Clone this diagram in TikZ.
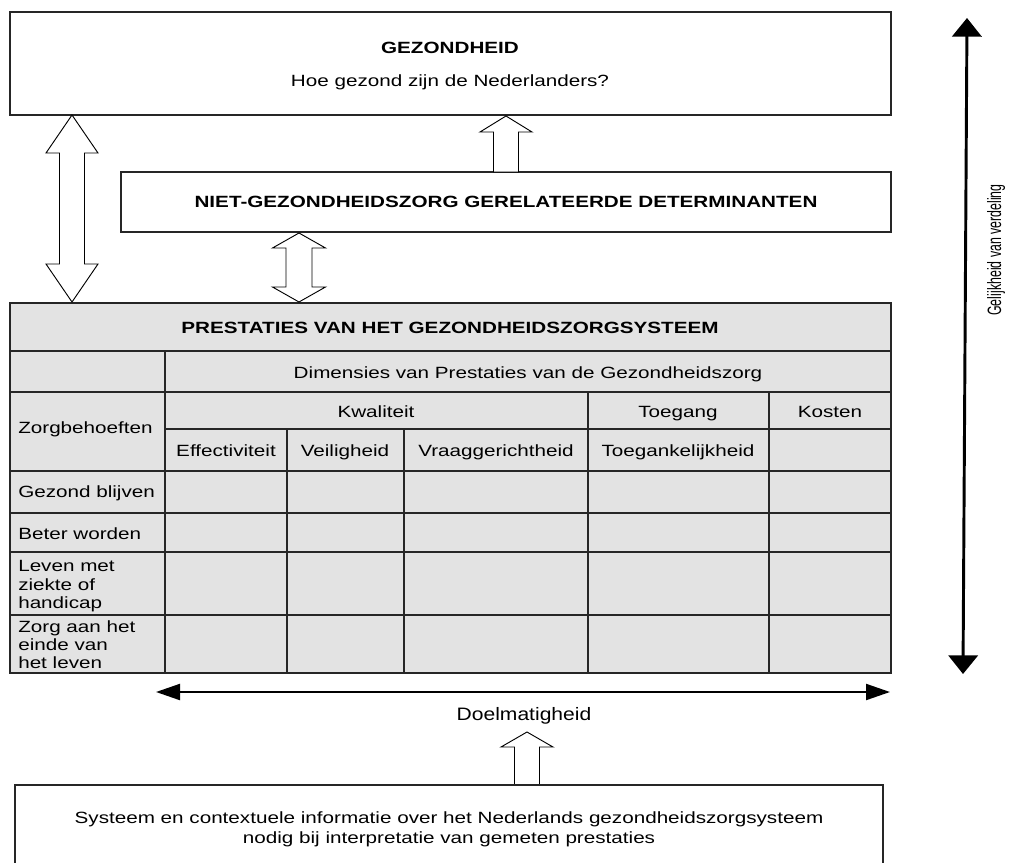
\documentclass[tikz,border=0pt]{standalone}
\usepackage{fontspec}
\setmainfont{Liberation Sans}[FakeStretch=1.27]
\newfontfamily\doelfont{Liberation Sans}[FakeStretch=1.17]
\newfontfamily\rotfont{Liberation Sans}[FakeStretch=0.64]
\usetikzlibrary{arrows.meta,fit}
\definecolor{tablefill}{gray}{0.89}
\definecolor{edge}{gray}{0.15}
\newcommand\updownblock[6]{% x, ytop, ybot, head half, shaft half, head length
  \draw[blockarrow] (#1,#2) -- ({#1+#4},{#2+#6}) -- ({#1+#5},{#2+#6}) -- ({#1+#5},{#3-#6})
    -- ({#1+#4},{#3-#6}) -- (#1,#3) -- ({#1-#4},{#3-#6}) -- ({#1-#5},{#3-#6})
    -- ({#1-#5},{#2+#6}) -- ({#1-#4},{#2+#6}) -- cycle;}
\newcommand\uponlyblock[6]{% x, ytop, ybot, head half, shaft half, head length
  \draw[blockarrow] (#1,#2) -- ({#1+#4},{#2+#6}) -- ({#1+#5},{#2+#6}) -- ({#1+#5},#3)
    -- ({#1-#5},#3) -- ({#1-#5},{#2+#6}) -- ({#1-#4},{#2+#6}) -- cycle;}
\begin{document}
\begin{tikzpicture}[x=0.75pt,y=-0.75pt,
  font=\fontsize{12.2}{14}\selectfont,
  boxframe/.style={draw=edge,line width=0.8pt,fill=white,inner sep=0pt},
  txt/.style={inner sep=0pt,anchor=base},
  lefttxt/.style={inner sep=0pt,anchor=base west},
  blockarrow/.style={draw=black,line width=0.7pt,fill=white,line join=miter},
  gridline/.style={draw=edge,line width=0.8pt},
  solidtip/.style={line width=1.6pt,{Triangle[length=18pt,width=12pt]}-{Triangle[length=18pt,width=12pt]}}]
\useasboundingbox[fill=white] (0,0) rectangle (1013,863);

% ---------- top box
\coordinate (gA) at (10,12); \coordinate (gB) at (891,115);
\node[boxframe,fit=(gA)(gB)] (gez) {};
\node[txt,font=\fontsize{12.2}{14}\selectfont\bfseries] (gezt) at (450,54) {GEZONDHEID};
\node[txt] (gezq) at (450,87) {Hoe gezond zijn de Nederlanders?};

% ---------- NIET box
\coordinate (nA) at (121,172); \coordinate (nB) at (891,232);
\node[boxframe,fit=(nA)(nB)] (niet) {};
\node[txt,font=\fontsize{12.2}{14}\selectfont\bfseries] (niett) at (506,207) {NIET-GEZONDHEIDSZORG GERELATEERDE DETERMINANTEN};

% ---------- table
\coordinate (tA) at (10,303); \coordinate (tB) at (891,673);
\node[draw=edge,line width=1.1pt,fill=tablefill,inner sep=0pt,fit=(tA)(tB)] (tab) {};
\draw[gridline] (10,351) -- (891,351);
\draw[gridline] (10,392) -- (891,392);
\draw[gridline] (165,429) -- (891,429);
\draw[gridline] (10,471) -- (891,471);
\draw[gridline] (10,513) -- (891,513);
\draw[gridline] (10,552) -- (891,552);
\draw[gridline] (10,615) -- (891,615);
\draw[gridline] (165,351) -- (165,673);
\draw[gridline] (287,429) -- (287,673);
\draw[gridline] (404,429) -- (404,673);
\draw[gridline] (588,392) -- (588,673);
\draw[gridline] (769,392) -- (769,673);
\draw[draw=edge,line width=1.1pt] (10,303) rectangle (891,673);

\node[txt,font=\fontsize{12.2}{14}\selectfont\bfseries] (tabtitle) at (450,333) {PRESTATIES VAN HET GEZONDHEIDSZORGSYSTEEM};
\node[txt] (dim) at (528,378) {Dimensies van Prestaties van de Gezondheidszorg};
\node[txt] (kwal) at (376,417) {Kwaliteit};
\node[txt] (toeg) at (678,417) {Toegang};
\node[txt] (kost) at (830,417) {Kosten};
\node[lefttxt] (zorgb) at (18,433) {Zorgbehoeften};
\node[txt] (eff) at (226,456) {Effectiviteit};
\node[txt] (veil) at (345,456) {Veiligheid};
\node[txt] (vraag) at (496,456) {Vraaggerichtheid};
\node[txt] (toegk) at (678,456) {Toegankelijkheid};
\node[lefttxt] (r1) at (18,497) {Gezond blijven};
\node[lefttxt] (r2) at (18,539) {Beter worden};
\node[lefttxt] (r3a) at (18,571) {Leven met};
\node[lefttxt] (r3b) at (18,590) {ziekte of};
\node[lefttxt] (r3c) at (18,608) {handicap};
\node[lefttxt] (r4a) at (18,632) {Zorg aan het};
\node[lefttxt] (r4b) at (18,650) {einde van};
\node[lefttxt] (r4c) at (18,668) {het leven};

% ---------- block arrows
\updownblock{72}{115}{302}{26}{12.5}{38}
\updownblock{299}{233}{302}{26.5}{13}{15}
\uponlyblock{506}{116}{172}{26}{12.5}{16}
\uponlyblock{527}{732}{785}{26}{12.5}{15}

% ---------- Doelmatigheid
\coordinate (dL) at (156,692); \coordinate (dR) at (890,692);
\draw[solidtip] (dL) -- (dR);
\node[txt,font=\doelfont\fontsize{13.5}{15}\selectfont] (doel) at (524,720) {Doelmatigheid};

% ---------- bottom box
\coordinate (bA) at (15,785); \coordinate (bB) at (883,880);
\node[boxframe,fit=(bA)(bB)] (ctx) {};
\node[txt] (ctx1) at (449,823) {Systeem en contextuele informatie over het Nederlands gezondheidszorgsysteem};
\node[txt] (ctx2) at (449,843) {nodig bij interpretatie van gemeten prestaties};

% ---------- vertical arrow
\coordinate (vT) at (967,18); \coordinate (vB) at (963,674);
\draw[line width=2.2pt,{Triangle[length=14pt,width=22pt]}-{Triangle[length=14pt,width=22pt]}] (vT) -- (vB);
\node[inner sep=0pt,rotate=90,font=\rotfont\fontsize{14.5}{16}\selectfont] (gelijk) at (996,250) {Gelijkheid van verdeling};
\end{tikzpicture}
\end{document}
